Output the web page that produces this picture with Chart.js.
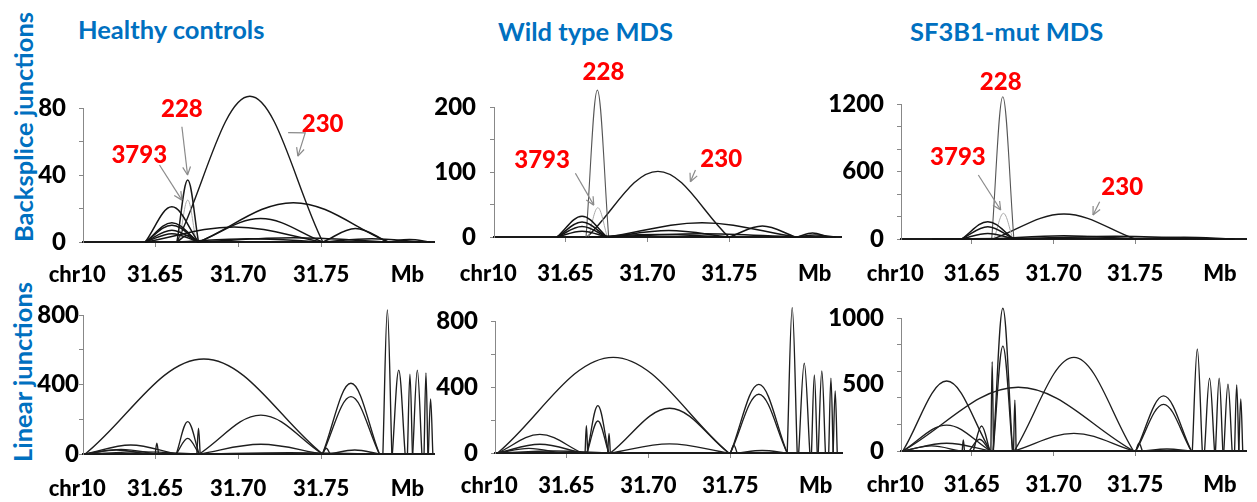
<!DOCTYPE html>
<html>
<head>
<meta charset="utf-8">
<script src="https://cdn.jsdelivr.net/npm/chart.js@4.4.1/dist/chart.umd.min.js"></script>
<style>
body{margin:0;background:#fff;width:1257px;height:502px;position:relative;overflow:hidden;font-family:Lato,"Open Sans",sans-serif;}
canvas{position:absolute;}
.title{position:absolute;color:#0070C0;font-weight:bold;font-size:25.5px;line-height:26px;white-space:nowrap;}
.ylab{position:absolute;color:#0070C0;font-weight:bold;font-size:25.5px;line-height:26px;white-space:nowrap;transform:translate(-50%,-50%) rotate(-90deg);}
</style>
</head>
<body>
<div class="title" style="left:78px;top:16px">Healthy controls</div>
<div class="title" style="left:498px;top:18px">Wild type MDS</div>
<div class="title" style="left:910px;top:18px">SF3B1-mut MDS</div>
<div class="ylab" style="left:23px;top:127px">Backsplice junctions</div>
<div class="ylab" style="left:22px;top:372px">Linear junctions</div>

<canvas id="hcBack" width="440" height="250" style="left:0;top:40px"></canvas>
<canvas id="wtBack" width="420" height="250" style="left:430px;top:40px"></canvas>
<canvas id="sfBack" width="437" height="250" style="left:820px;top:40px"></canvas>
<canvas id="hcLin" width="440" height="212" style="left:0;top:290px"></canvas>
<canvas id="wtLin" width="420" height="212" style="left:430px;top:290px"></canvas>
<canvas id="sfLin" width="437" height="212" style="left:820px;top:290px"></canvas>

<script>
// ---------- data (genomic position in Mb, junction reads) ----------

const xTickValues = [31.65, 31.70, 31.75];
const xEndLabels = ["chr10", "Mb"];
const xEndValues = [31.603, 31.802];
const junctionNames = ["228", "3793", "230"];

// arcs: [start, end, reads]
// backsplice, healthy controls
const hcBackJunctions = [[31.6631, 31.6761, 37], [31.6645, 31.6747, 25], [31.6631, 31.7510, 87]];
const hcBackArcs = [
    [31.6440, 31.6761, 21], [31.6440, 31.6761, 11.5], [31.6440, 31.6761, 10],
    [31.6440, 31.6761, 7], [31.6440, 31.6761, 5], [31.6631, 31.6761, 4],
    [31.6761, 31.7904, 23.5], [31.6761, 31.7510, 14], [31.6440, 31.7510, 9],
    [31.7510, 31.7904, 8], [31.6631, 31.7510, 2], [31.6761, 31.7904, 2.5],
    [31.7510, 31.8100, 2], [31.7904, 31.8160, 1.5]
];
const hcBackTicks = [0, 20, 40, 60, 80];
const hcBackLabels = [0, 40, 80];

// backsplice, wild type MDS
const wtBackJunctions = [[31.6626, 31.6764, 226], [31.6640, 31.6756, 45], [31.6632, 31.7496, 101]];
const wtBackArcs = [
    [31.6449, 31.6754, 32], [31.6449, 31.6754, 23], [31.6449, 31.6754, 16],
    [31.6449, 31.6754, 9], [31.6764, 31.7902, 22], [31.6764, 31.7496, 10],
    [31.7500, 31.7902, 17], [31.7915, 31.8098, 6], [31.6632, 31.7496, 4],
    [31.6764, 31.7902, 5], [31.7902, 31.8150, 3]
];
const wtBackTicks = [0, 50, 100, 150, 200];
const wtBackLabels = [0, 100, 200];

// backsplice, SF3B1-mut MDS
const sfBackJunctions = [[31.6621, 31.6757, 1265], [31.6635, 31.6751, 228], [31.6630, 31.7498, 222]];
const sfBackArcs = [
    [31.6437, 31.6757, 154], [31.6437, 31.6757, 109], [31.6437, 31.6757, 50],
    [31.6630, 31.7498, 30], [31.6757, 31.8000, 25], [31.7498, 31.8100, 15],
    [31.6255, 31.8110, 8]
];
const sfBackTicks = [0, 200, 400, 600, 800, 1000, 1200];
const sfBackLabels = [0, 600, 1200];

// linear, healthy controls
const hcLinArcs = [
    [31.6078, 31.7508, 547], [31.6765, 31.7508, 224], [31.6765, 31.7508, 56],
    [31.6627, 31.6765, 186], [31.6627, 31.6765, 90], [31.6751, 31.6771, 148],
    [31.6500, 31.6520, 63], [31.6078, 31.6627, 52], [31.6078, 31.6510, 27],
    [31.6078, 31.6450, 23], [31.7508, 31.7851, 407], [31.7508, 31.7851, 330],
    [31.7508, 31.7554, 33], [31.7554, 31.7851, 23], [31.7872, 31.7926, 829],
    [31.7929, 31.8006, 483], [31.8020, 31.8050, 460], [31.8052, 31.8107, 483],
    [31.8120, 31.8143, 466], [31.8146, 31.8173, 317], [31.6078, 31.6765, 12],
    [31.6765, 31.7851, 8]
];
const hcLinTicks = [0, 200, 400, 600, 800];
const hcLinLabels = [0, 400, 800];

// linear, wild type MDS
const wtLinArcs = [
    [31.6081, 31.7490, 580], [31.6768, 31.7490, 271], [31.6768, 31.7490, 55],
    [31.6626, 31.6758, 287], [31.6626, 31.6758, 194], [31.6614, 31.6630, 166],
    [31.6752, 31.6768, 119], [31.6081, 31.6596, 113], [31.6081, 31.6596, 53],
    [31.6081, 31.6463, 28], [31.7500, 31.7846, 416], [31.7500, 31.7846, 356],
    [31.7500, 31.7541, 48], [31.7541, 31.7846, 15], [31.7846, 31.7907, 881],
    [31.7916, 31.7984, 544], [31.7994, 31.8029, 473], [31.8035, 31.8079, 497],
    [31.8099, 31.8126, 453], [31.8126, 31.8151, 376], [31.6081, 31.6768, 12]
];
const wtLinTicks = [0, 200, 400, 600, 800];
const wtLinLabels = [0, 400, 800];

// linear, SF3B1-mut MDS
const sfLinArcs = [
    [31.6076, 31.6614, 526], [31.6076, 31.7491, 479], [31.6076, 31.6614, 195],
    [31.6076, 31.6614, 58], [31.6076, 31.6427, 38], [31.6759, 31.7491, 704],
    [31.6759, 31.7491, 133], [31.6630, 31.6749, 1073], [31.6630, 31.6749, 789],
    [31.6616, 31.6632, 671], [31.6755, 31.6771, 383], [31.6508, 31.6610, 188],
    [31.6483, 31.6610, 88], [31.6440, 31.6454, 83], [31.7504, 31.7845, 414],
    [31.7504, 31.7845, 351], [31.7504, 31.7545, 58], [31.7545, 31.7845, 15],
    [31.7851, 31.7912, 767], [31.7926, 31.7987, 547], [31.7993, 31.8038, 547],
    [31.8044, 31.8095, 502], [31.8110, 31.8136, 496], [31.8136, 31.8160, 391]
];
const sfLinTicks = [0, 200, 400, 600, 800, 1000];
const sfLinLabels = [0, 500, 1000];

// ---------- drawing ----------

const X_MIN = 31.6065, X_MAX = 31.818;
const FONT = "Lato, 'Open Sans', sans-serif";
const X_FONT = 22;

function arcSet(a, color, width) {
    return {
        data: [{x: a[0], y: 0}, {x: (a[0] + a[1]) / 2, y: a[2]}, {x: a[1], y: 0}],
        showLine: true,
        borderColor: color,
        borderWidth: width,
        pointRadius: 0,
        pointHoverRadius: 0,
        tension: 0.36,
        clip: false
    };
}

// "chr10" and "Mb" on both ends of the x axis, same row as the tick labels
const axisEnds = {
    id: "axisEnds",
    afterDraw(chart) {
        const xs = chart.scales.x, ctx = chart.ctx;
        ctx.save();
        ctx.font = "900 " + X_FONT + "px " + FONT;
        ctx.fillStyle = "#000";
        ctx.textAlign = "center";
        ctx.textBaseline = "middle";
        const y = xs.top + 5 + xs.options.ticks.padding + X_FONT * 1.2 / 2;
        xEndLabels.forEach((t, i) => ctx.fillText(t, xs.getPixelForValue(xEndValues[i]), y));
        ctx.restore();
    }
};

// red junction names with grey arrows
const junctionNotes = {
    id: "junctionNotes",
    afterDatasetsDraw(chart, args, opts) {
        if (!opts.labels) return;
        const xs = chart.scales.x, ys = chart.scales.y, ctx = chart.ctx;
        ctx.save();
        ctx.strokeStyle = "#8a8a8a";
        ctx.lineWidth = 1.2;
        opts.arrows.forEach(pts => {
            const p = pts.map(q => [xs.getPixelForValue(q[0]), ys.getPixelForValue(q[1])]);
            ctx.beginPath();
            p.forEach((q, i) => i ? ctx.lineTo(q[0], q[1]) : ctx.moveTo(q[0], q[1]));
            ctx.stroke();
            const a = p[p.length - 2], b = p[p.length - 1];
            const ang = Math.atan2(b[1] - a[1], b[0] - a[0]);
            ctx.beginPath();
            [-1, 1].forEach(s => {
                ctx.moveTo(b[0], b[1]);
                ctx.lineTo(b[0] - 9 * Math.cos(ang + s * 0.45), b[1] - 9 * Math.sin(ang + s * 0.45));
            });
            ctx.stroke();
        });
        ctx.font = "900 24px " + FONT;
        ctx.fillStyle = "#ff0000";
        ctx.textAlign = "center";
        ctx.textBaseline = "middle";
        opts.labels.forEach(l => ctx.fillText(l.text, xs.getPixelForValue(l.x), ys.getPixelForValue(l.y)));
        ctx.restore();
    }
};

function makePanel(id, box, datasets, marks, labels, notes) {
    const all = [...new Set(marks.concat(labels))].sort((a, b) => a - b);
    return new Chart(document.getElementById(id), {
        type: "scatter",
        data: {datasets: datasets},
        plugins: [axisEnds, junctionNotes],
        options: {
            responsive: false,
            animation: false,
            devicePixelRatio: 1,
            events: [],
            layout: {padding: {top: box.top, right: box.right, left: 0, bottom: 0}},
            elements: {line: {capBezierPoints: false}},
            plugins: {
                legend: {display: false},
                tooltip: {enabled: false},
                junctionNotes: notes || {}
            },
            scales: {
                x: {
                    type: "linear",
                    min: X_MIN,
                    max: X_MAX,
                    afterFit: s => { s.height = box.xh; },
                    afterBuildTicks: s => { s.ticks = xTickValues.map(v => ({value: v})); },
                    border: {color: "#1a1a1a", width: 2},
                    grid: {drawOnChartArea: false, drawTicks: true, tickLength: 5, tickColor: "#888"},
                    ticks: {
                        callback: v => v.toFixed(2),
                        font: {family: FONT, weight: 900, size: X_FONT},
                        color: "#000",
                        padding: box.lp,
                        maxRotation: 0,
                        autoSkip: false
                    }
                },
                y: {
                    min: 0,
                    max: all[all.length - 1],
                    afterFit: s => { s.width = box.yw; },
                    afterBuildTicks: s => { s.ticks = all.map(v => ({value: v})); },
                    border: {color: "#888", width: 1},
                    grid: {
                        drawOnChartArea: false,
                        tickLength: 4,
                        tickColor: c => marks.includes(c.tick.value) ? "#888" : "rgba(0,0,0,0)"
                    },
                    ticks: {
                        callback: v => labels.includes(v) ? String(v) : "",
                        font: {family: FONT, weight: 900, size: 24},
                        color: "#000",
                        padding: box.tp,
                        autoSkip: false
                    }
                }
            }
        }
    });
}

function backSets(arcs, junctions, c228, w228) {
    const styles = {"228": [c228, w228], "3793": ["#a8a8a8", 1], "230": ["#1a1a1a", 1.4]};
    return arcs.map(a => arcSet(a, "#141414", 1.5))
        .concat(junctions.map((a, i) => arcSet(a, styles[junctionNames[i]][0], styles[junctionNames[i]][1])));
}

function linSets(arcs) {
    return arcs.map(a => arcSet(a, "#1e1e1e", 1.35));
}

makePanel("hcBack", {top: 68, right: 6, yw: 83, xh: 48, tp: 13, lp: 15},
    backSets(hcBackArcs, hcBackJunctions, "#1a1a1a", 1.5), hcBackTicks, hcBackLabels, {
        labels: [{text: "228", x: 31.6661, y: 79.4}, {text: "3793", x: 31.6404, y: 52}, {text: "230", x: 31.7509, y: 70.4}],
        arrows: [
            [[31.6661, 68.8], [31.6695, 40]],
            [[31.6526, 46], [31.6661, 25]],
            [[31.7301, 65.3], [31.7404, 65.1], [31.7360, 51.3]]
        ]
    });

makePanel("wtBack", {top: 67, right: 9, yw: 64, xh: 53, tp: 14, lp: 19},
    backSets(wtBackArcs, wtBackJunctions, "#555", 1.1), wtBackTicks, wtBackLabels, {
        labels: [{text: "228", x: 31.6732, y: 253}, {text: "3793", x: 31.6358, y: 118.5}, {text: "230", x: 31.745, y: 120}],
        arrows: [
            [[31.6561, 98], [31.6673, 49]],
            [[31.7293, 103], [31.7262, 85]]
        ]
    });

makePanel("sfBack", {top: 64, right: 11, yw: 81, xh: 51, tp: 13, lp: 17},
    backSets(sfBackArcs, sfBackJunctions, "#555", 1.1), sfBackTicks, sfBackLabels, {
        labels: [{text: "228", x: 31.6676, y: 1391}, {text: "3793", x: 31.6414, y: 729}, {text: "230", x: 31.7421, y: 462}],
        arrows: [
            [[31.6539, 569], [31.6676, 258]],
            [[31.7283, 332], [31.7242, 213]]
        ]
    });

makePanel("hcLin", {top: 25, right: 6, yw: 83, xh: 48, tp: 0, lp: 17}, linSets(hcLinArcs), hcLinTicks, hcLinLabels);
makePanel("wtLin", {top: 31, right: 8, yw: 65, xh: 49, tp: 13, lp: 15}, linSets(wtLinArcs), wtLinTicks, wtLinLabels);
makePanel("sfLin", {top: 28, right: 11, yw: 81, xh: 51, tp: 13, lp: 16}, linSets(sfLinArcs), sfLinTicks, sfLinLabels);
</script>
</body>
</html>
